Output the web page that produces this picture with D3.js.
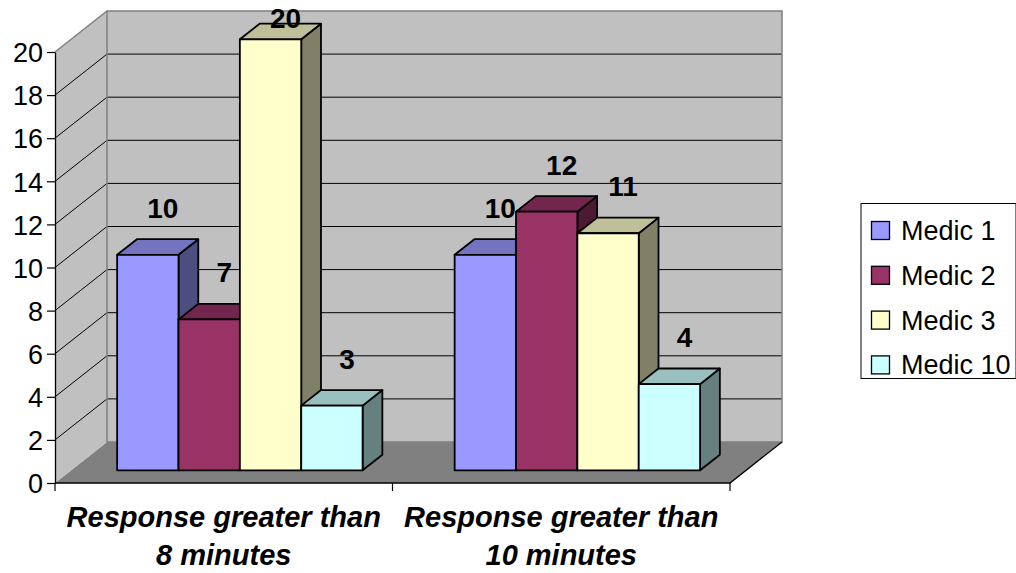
<!DOCTYPE html>
<html>
<head>
<meta charset="utf-8">
<script src="https://cdn.jsdelivr.net/npm/d3@7"></script>
<style>
  html, body { margin: 0; padding: 0; background: #ffffff; }
  svg { display: block; font-family: "Liberation Sans", Arial, sans-serif; }
</style>
</head>
<body>
<script>
// Category labels (two lines each) and series
const categories = ["Response greater than 8 minutes", "Response greater than 10 minutes"];
const categoryLines = [["Response greater than", "8 minutes"], ["Response greater than", "10 minutes"]];
const seriesNames = ["Medic 1", "Medic 2", "Medic 3", "Medic 10"];
const medic1 = [10, 10];
const medic2 = [7, 12];
const medic3 = [20, 11];
const medic10 = [3, 4];
const seriesValues = [medic1, medic2, medic3, medic10];
const yTicks = [0, 2, 4, 6, 8, 10, 12, 14, 16, 18, 20];

const palette = ["#9999ff", "#993366", "#ffffcc", "#ccffff"];

const W = 1016, H = 573;
const svg = d3.select("body").append("svg").attr("width", W).attr("height", H);

// Front plane scales
const x = d3.scaleBand().domain(categories).range([55, 730]).padding(0);
const y = d3.scaleLinear().domain([0, 20]).range([483, 52]);
// Series inside a category: 150% gap width split on both sides
const xs = d3.scaleBand().domain(seriesNames).range([0, x.bandwidth()]).paddingInner(0).paddingOuter(0.75);

// Oblique depth projection
const DX = 52, DY = -41;
const proj = (px, py, f) => [px + f * DX, py + f * DY];
const poly = pts => pts.map(p => p.join(",")).join(" ");

const [xL, xR] = x.range();
const y0 = y(0), yTop = y(20);

// Floor
svg.append("polygon")
  .attr("points", poly([proj(xL, y0, 0), proj(xL, y0, 1), proj(xR, y0, 1), proj(xR, y0, 0)]))
  .attr("fill", "#808080").attr("stroke", "none");

// Back wall
svg.append("polygon")
  .attr("points", poly([proj(xL, yTop, 1), proj(xR, yTop, 1), proj(xR, y0, 1), proj(xL, y0, 1)]))
  .attr("fill", "#c0c0c0").attr("stroke", "none");

// Side wall
svg.append("polygon")
  .attr("points", poly([proj(xL, yTop, 0), proj(xL, yTop, 1), proj(xL, y0, 1), proj(xL, y0, 0)]))
  .attr("fill", "#c0c0c0").attr("stroke", "none");

// Gridlines on side and back walls
const gridVals = yTicks.filter(v => v > 0 && v < 20);
svg.append("g").selectAll("path").data(gridVals).join("path")
  .attr("d", v => {
    const a = proj(xL, y(v), 0), b = proj(xL, y(v), 1), c = proj(xR, y(v), 1);
    return `M${a}L${b}L${c}`;
  })
  .attr("fill", "none").attr("stroke", "#000").attr("stroke-width", 1);

// Wall outlines
svg.append("path")
  .attr("d", () => {
    const a = proj(xL, yTop, 0), b = proj(xL, yTop, 1), c = proj(xR, yTop, 1),
          d = proj(xR, y0, 1), e = proj(xL, y0, 1);
    return `M${a}L${b}L${c}L${d}L${e}L${b}`;
  })
  .attr("fill", "none").attr("stroke", "#808080").attr("stroke-width", 1.5);

// Floor edges
svg.append("path")
  .attr("d", () => {
    const a = proj(xL, y0, 0), b = proj(xR, y0, 0), c = proj(xR, y0, 1);
    return `M${a}L${b}L${c}`;
  })
  .attr("fill", "none").attr("stroke", "#000").attr("stroke-width", 1.3);

// Bars
const F0 = 0.31, F1 = 0.69;
const shade = (c, k) => { const r = d3.rgb(c); return d3.rgb(r.r * k, r.g * k, r.b * k).formatHex(); };
const barData = [];
categories.forEach((cat, i) => {
  seriesNames.forEach((s, j) => {
    barData.push({ cat, s, j, v: seriesValues[j][i] });
  });
});
const bars = svg.append("g").selectAll("g").data(barData).join("g");
bars.each(function (d) {
  const g = d3.select(this);
  const xl = x(d.cat) + xs(d.s), xr = xl + xs.bandwidth();
  const yt = y(d.v), yb = y(0);
  const col = palette[d.j];
  g.append("polygon")
    .attr("points", poly([proj(xr, yt, F0), proj(xr, yt, F1), proj(xr, yb, F1), proj(xr, yb, F0)]))
    .attr("fill", shade(col, 0.5));
  g.append("polygon")
    .attr("points", poly([proj(xl, yt, F0), proj(xr, yt, F0), proj(xr, yt, F1), proj(xl, yt, F1)]))
    .attr("fill", shade(col, 0.75));
  g.append("polygon")
    .attr("points", poly([proj(xl, yt, F0), proj(xr, yt, F0), proj(xr, yb, F0), proj(xl, yb, F0)]))
    .attr("fill", col);
  g.selectAll("polygon").attr("stroke", "#000").attr("stroke-width", 1.8).attr("stroke-linejoin", "round");
});

// Value labels
svg.append("g").selectAll("text").data(barData).join("text")
  .attr("x", d => proj(x(d.cat) + xs(d.s) + xs.bandwidth() / 2, 0, F0)[0] + 15)
  .attr("y", d => Math.max(proj(0, y(d.v), F0)[1] - 37, 28))
  .attr("text-anchor", "middle")
  .attr("font-size", 28).attr("font-weight", "bold").attr("fill", "#000")
  .text(d => d.v);

// Y axis
const yAxis = svg.append("g")
  .attr("transform", `translate(${xL},0)`)
  .call(d3.axisLeft(y).tickValues(yTicks).tickSize(8).tickSizeOuter(0).tickPadding(4));
yAxis.select(".domain").attr("stroke", "#000").attr("stroke-width", 1.3);
yAxis.selectAll(".tick line").attr("stroke", "#000").attr("stroke-width", 1.2);
yAxis.selectAll(".tick text")
  .attr("font-family", "Liberation Sans, Arial, sans-serif")
  .attr("font-size", 27).attr("fill", "#000").attr("dy", "0.36em");

// Category ticks at band boundaries
const bounds = categories.map(c => x(c)).concat([xR]);
svg.append("g").selectAll("line").data(bounds).join("line")
  .attr("x1", d => d).attr("x2", d => d)
  .attr("y1", y0).attr("y2", y0 + 8)
  .attr("stroke", "#000").attr("stroke-width", 1.2);

// Category labels
const catText = svg.append("g").selectAll("text").data(categories).join("text")
  .attr("text-anchor", "middle")
  .attr("font-size", 29).attr("font-weight", "bold").attr("font-style", "italic").attr("fill", "#000");
catText.selectAll("tspan").data((d, i) => categoryLines[i].map(t => ({ t, c: d }))).join("tspan")
  .attr("x", d => x(d.c) + x.bandwidth() / 2)
  .attr("y", (d, k) => 527 + k * 37.5)
  .text(d => d.t);

// Legend
const lg = svg.append("g");
lg.append("rect").attr("x", 861).attr("y", 203.5).attr("width", 155).attr("height", 175)
  .attr("fill", "#fff").attr("stroke", "#000").attr("stroke-width", 1);
const items = lg.selectAll("g").data(seriesNames).join("g")
  .attr("transform", (d, i) => `translate(0,${i * 44.8})`);
items.append("rect").attr("x", 871.5).attr("y", 221.5).attr("width", 18).attr("height", 18)
  .attr("fill", (d, i) => palette[i]).attr("stroke", "#000").attr("stroke-width", 1.3);
items.append("text").attr("x", 901).attr("y", 240)
  .attr("font-size", 27).attr("fill", "#000").text(d => d);
</script>
</body>
</html>
